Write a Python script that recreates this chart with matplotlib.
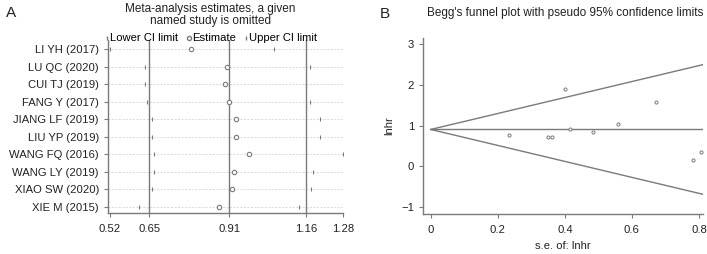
import matplotlib
matplotlib.use("Agg")
import matplotlib.pyplot as plt
from matplotlib.lines import Line2D

plt.rcParams['font.family'] = ['Liberation Sans', 'DejaVu Sans']

# ---- Panel A data ----
studies = ["LI YH (2017)", "LU QC (2020)", "CUI TJ (2019)", "FANG Y (2017)",
           "JIANG LF (2019)", "LIU YP (2019)", "WANG FQ (2016)", "WANG LY (2019)",
           "XIAO SW (2020)", "XIE M (2015)"]
estimate = [0.784, 0.903, 0.896, 0.908, 0.931, 0.933, 0.973, 0.925, 0.918, 0.876]
lower_ci = [0.520, 0.634, 0.634, 0.641, 0.657, 0.659, 0.664, 0.664, 0.659, 0.616]
upper_ci = [1.055, 1.172, 1.160, 1.172, 1.205, 1.205, 1.280, 1.183, 1.177, 1.137]
ref_lines = [0.65, 0.91, 1.16]
xticks_a = [0.52, 0.65, 0.91, 1.16, 1.28]
xticklabels_a = ["0.52", "0.65", "0.91", "1.16", "1.28"]

# ---- Panel B data ----
se_lnhr = [0.400, 0.673, 0.558, 0.233, 0.350, 0.363, 0.415, 0.484, 0.782, 0.807]
lnhr = [1.90, 1.58, 1.03, 0.76, 0.72, 0.72, 0.92, 0.845, 0.15, 0.35]
pooled = 0.905
se_max = 0.812
xticks_b = [0, 0.2, 0.4, 0.6, 0.8]
yticks_b = [-1, 0, 1, 2, 3]

W, H = 707, 254
fig = plt.figure(figsize=(W / 100, H / 100), dpi=100)

grey = "#7a7a7a"
txt = "#222222"
fs = 8.1
tfs = 8.5

def frac(x0, y0, x1, y1):
    return [x0 / W, 1 - y1 / H, (x1 - x0) / W, (y1 - y0) / H]

# ---------- Panel A ----------
axA = fig.add_axes(frac(108, 40, 343, 213))
ypos = list(range(1, len(studies) + 1))
for y, lo, hi in zip(ypos, lower_ci, upper_ci):
    axA.plot([0.515, 1.28], [y, y], color="#cccccc", lw=0.5, ls=(0, (3, 2)), zorder=1)
for r in ref_lines:
    axA.axvline(r, color=grey, lw=1.0, zorder=2)
axA.scatter(lower_ci, ypos, marker="|", s=10, color=grey, linewidths=0.8, zorder=3)
axA.scatter(upper_ci, ypos, marker="|", s=10, color=grey, linewidths=0.8, zorder=3)
axA.scatter(estimate, ypos, marker="o", s=10, facecolors="white", edgecolors=grey,
            linewidths=0.8, zorder=4)
axA.set_xlim(0.515, 1.28)
axA.set_ylim(10.34, 0.49)
axA.set_yticks(ypos)
axA.set_yticklabels(studies)
axA.set_xticks(xticks_a)
axA.set_xticklabels(xticklabels_a)
for s in ["top", "right"]:
    axA.spines[s].set_visible(False)
for s in ["left", "bottom"]:
    axA.spines[s].set_color(grey)
    axA.spines[s].set_linewidth(1.0)
axA.tick_params(axis="both", labelsize=fs, colors=grey, labelcolor=txt, length=3, width=0.8)
axA.tick_params(axis="x", pad=5)

handles = [Line2D([], [], marker="|", color=grey, ls="none", markersize=3.5),
           Line2D([], [], marker="o", markerfacecolor="white", markeredgecolor=grey,
                  ls="none", markersize=3),
           Line2D([], [], marker="|", color=grey, ls="none", markersize=3.5)]
axA.legend(handles, ["Lower CI limit", "Estimate", "Upper CI limit"], ncol=3,
           loc="lower left", bbox_to_anchor=(-0.01, 0.98), frameon=False,
           fontsize=fs, handlelength=0.3, handletextpad=0.1, columnspacing=0.8,
           borderaxespad=0, borderpad=0)
fig.text(210 / W, 1 - 15 / H, "Meta-analysis estimates, a given\nnamed study is omitted",
         ha="center", va="center", fontsize=tfs, color=txt, linespacing=0.92)
fig.text(6 / W, 1 - 13 / H, "A", ha="left", va="center", fontsize=11, color=txt)

# ---------- Panel B ----------
axB = fig.add_axes(frac(423, 38, 703, 214))
axB.plot([0, se_max], [pooled, pooled + 1.96 * se_max], color=grey, lw=1.0)
axB.plot([0, se_max], [pooled, pooled - 1.96 * se_max], color=grey, lw=1.0)
axB.plot([0, se_max], [pooled, pooled], color=grey, lw=1.0)
axB.scatter(se_lnhr, lnhr, marker="o", s=5, facecolors="white", edgecolors=grey,
            linewidths=0.7, zorder=3)
axB.set_xlim(-0.023, 0.812)
axB.set_ylim(-1.17, 3.15)
axB.set_xticks(xticks_b)
axB.set_xticklabels(["0", "0.2", "0.4", "0.6", "0.8"])
axB.set_yticks(yticks_b)
axB.set_yticklabels(["\u22121", "0", "1", "2", "3"])
for s in ["top", "right"]:
    axB.spines[s].set_visible(False)
for s in ["left", "bottom"]:
    axB.spines[s].set_color(grey)
    axB.spines[s].set_linewidth(1.0)
axB.tick_params(axis="both", labelsize=fs, colors=grey, labelcolor=txt, length=3, width=0.8)
axB.tick_params(axis="x", pad=5)
axB.set_xlabel("s.e. of: lnhr", fontsize=fs, color=txt, labelpad=4)
axB.set_ylabel("lnhr", fontsize=fs, color=txt, labelpad=5)
fig.text(565 / W, 1 - 13 / H, "Begg's funnel plot with pseudo 95% confidence limits",
         ha="center", va="center", fontsize=tfs, color=txt)
fig.text(380 / W, 1 - 14 / H, "B", ha="left", va="center", fontsize=11, color=txt)

fig.savefig("out.png", dpi=100)
